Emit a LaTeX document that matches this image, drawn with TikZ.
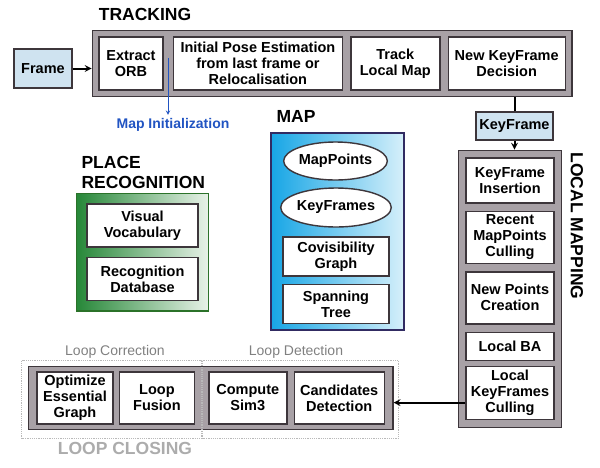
\documentclass[tikz,border=0pt]{standalone}
\usepackage{fontspec}
\setmainfont{Liberation Sans}
\usetikzlibrary{arrows,positioning,fit,backgrounds,calc,shapes.geometric}
\definecolor{boxline}{rgb}{0.24,0.21,0.23}
\definecolor{grayfill}{rgb}{0.66,0.63,0.65}
\definecolor{kfblue}{rgb}{0.81,0.89,0.94}
\definecolor{mapblue}{rgb}{0.09,0.65,0.90}
\definecolor{maplight}{rgb}{0.84,0.94,0.98}
\definecolor{pgreen}{rgb}{0.15,0.53,0.22}
\definecolor{pgreenlight}{rgb}{0.91,0.95,0.91}
\definecolor{initblue}{rgb}{0.13,0.33,0.76}
\definecolor{loopgray}{rgb}{0.50,0.50,0.50}

\begin{document}
\begin{tikzpicture}[x=1pt, y=-1pt,
	box/.style={draw=boxline, fill=white, line width=1.4pt, align=center, inner sep=1pt, font=\fontsize{14.5}{16}\selectfont\bfseries},
	graybox/.style={draw=boxline, fill=grayfill, line width=1.4pt, inner sep=6pt},
	title/.style={font=\fontsize{17.5}{19.5}\selectfont\bfseries},
	dotbox/.style={draw=gray!55, densely dotted, line width=1.2pt},
	thickarrow/.style={-stealth, line width=2pt, black}]
\useasboundingbox (0,0) rectangle (600,467);

% tracking
\node[title] (trtitle) at (145,14) {TRACKING};
\node[box, minimum width=64pt, minimum height=53pt] (orb) at (131,63.5) {Extract\\ORB};
\node[box, minimum width=169pt, minimum height=53pt, right=9pt of orb] (pose) {Initial Pose Estimation\\from last frame or\\Relocalisation};
\node[box, minimum width=89pt, minimum height=53pt, right=7pt of pose] (track) {Track\\Local Map};
\node[box, minimum width=117pt, minimum height=53pt, right=7pt of track] (kfd) {New KeyFrame\\Decision};
\begin{scope}[on background layer]
	\node[graybox, fit=(orb)(kfd)] (trk) {};
\end{scope}

\node[box, fill=kfblue, minimum width=58pt, minimum height=39pt] (frame) at (43,68.5) {Frame};
\draw[thickarrow] (frame.east) -- (frame.east -| trk.west);

\coordinate (mistart) at (168,58);
\node[font=\fontsize{14}{16}\selectfont\bfseries, text=initblue] (mapinit) at (173,125) {Map Initialization};
\draw[-stealth, initblue, line width=1pt] (mistart) -- (mistart |- mapinit.north);

% map
\node[title] (maptitle) at (296,116) {MAP};
\node[draw=boxline!80!blue, line width=1.2pt, left color=mapblue, right color=maplight, minimum width=133pt, minimum height=197pt] (map) at (337.5,231.5) {};
\node[box, ellipse, minimum width=103pt, minimum height=38pt, inner sep=0pt] (mp) at (335.5,161) {MapPoints};
\node[box, ellipse, minimum width=102pt, minimum height=39pt, inner sep=0pt] (kfs) at (336,207.5) {KeyFrames};
\node[box, minimum width=106pt, minimum height=39pt] (cov) at (336,256.5) {Covisibility\\Graph};
\node[box, minimum width=106pt, minimum height=39pt, below=7pt of cov] (span) {Spanning\\Tree};

% place recognition
\node[title, align=left, anchor=north west] (prtitle) at (78,153) {PLACE\\RECOGNITION};
\node[box, minimum width=111pt, minimum height=43pt] (voc) at (142.5,225.5) {Visual\\Vocabulary};
\node[box, minimum width=111pt, minimum height=43pt, below=9pt of voc] (rdb) {Recognition\\Database};
\begin{scope}[on background layer]
	\node[draw=boxline!70!green, line width=1.4pt, left color=pgreen, right color=pgreenlight, inner sep=10pt, fit=(voc)(rdb)] (pr) {};
\end{scope}

% local mapping
\node[box, fill=kfblue, minimum width=77pt, minimum height=28pt] (kf) at (514.5,126) {KeyFrame};
\node[box, minimum width=88pt, minimum height=45pt] (kfi) at (510,180.5) {KeyFrame\\Insertion};
\node[box, minimum width=88pt, minimum height=52pt, below=7pt of kfi] (rmc) {Recent\\MapPoints\\Culling};
\node[box, minimum width=88pt, minimum height=52pt, below=7pt of rmc] (npc) {New Points\\Creation};
\node[box, minimum width=88pt, minimum height=28pt, below=7pt of npc] (lba) {Local BA};
\node[box, minimum width=88pt, minimum height=53pt, below=5pt of lba] (lkc) {Local\\KeyFrames\\Culling};
\begin{scope}[on background layer]
	\node[graybox, inner sep=7pt, fit=(kfi)(lkc)] (lm) {};
\end{scope}
\node[title, rotate=-90] (lmtitle) at (577,226) {LOCAL MAPPING};
\draw[line width=2pt] (kf.north) -- (kf.north |- trk.south);
\draw[thickarrow] (kf.south) -- (kf.south |- lm.north);

% loop closing
\node[box, minimum width=76pt, minimum height=52pt] (oeg) at (75,398) {Optimize\\Essential\\Graph};
\node[box, minimum width=75pt, minimum height=52pt, right=5pt of oeg] (lf) {Loop\\Fusion};
\node[box, minimum width=78pt, minimum height=52pt, right=13pt of lf] (cs) {Compute\\Sim3};
\node[box, minimum width=90pt, minimum height=52pt, right=6pt of cs] (cd) {Candidates\\Detection};
\begin{scope}[on background layer]
	\node[graybox, inner xsep=8pt, inner ysep=5pt, fit=(oeg)(cd)] (lc) {};
\end{scope}
\coordinate (split) at ($(lf.east)!0.5!(cs.west)$);
\draw[dotbox] ($(lc.north west)+(-6,-5)$) rectangle ($(split |- lc.south)+(0,8)$);
\draw[dotbox] ($(split |- lc.north)+(1,-5)$) rectangle ($(lc.south east)+(5,8)$);
\node[font=\fontsize{14}{16}\selectfont, text=loopgray] (corr) at (115,352) {Loop Correction};
\node[font=\fontsize{14}{16}\selectfont, text=loopgray] (det) at (296,352) {Loop Detection};
\node[title, text=gray!65] (lctitle) at (125,448) {LOOP CLOSING};
\draw[thickarrow] (lkc.192) -- (lkc.192 -| lc.east);
\end{tikzpicture}
\end{document}
